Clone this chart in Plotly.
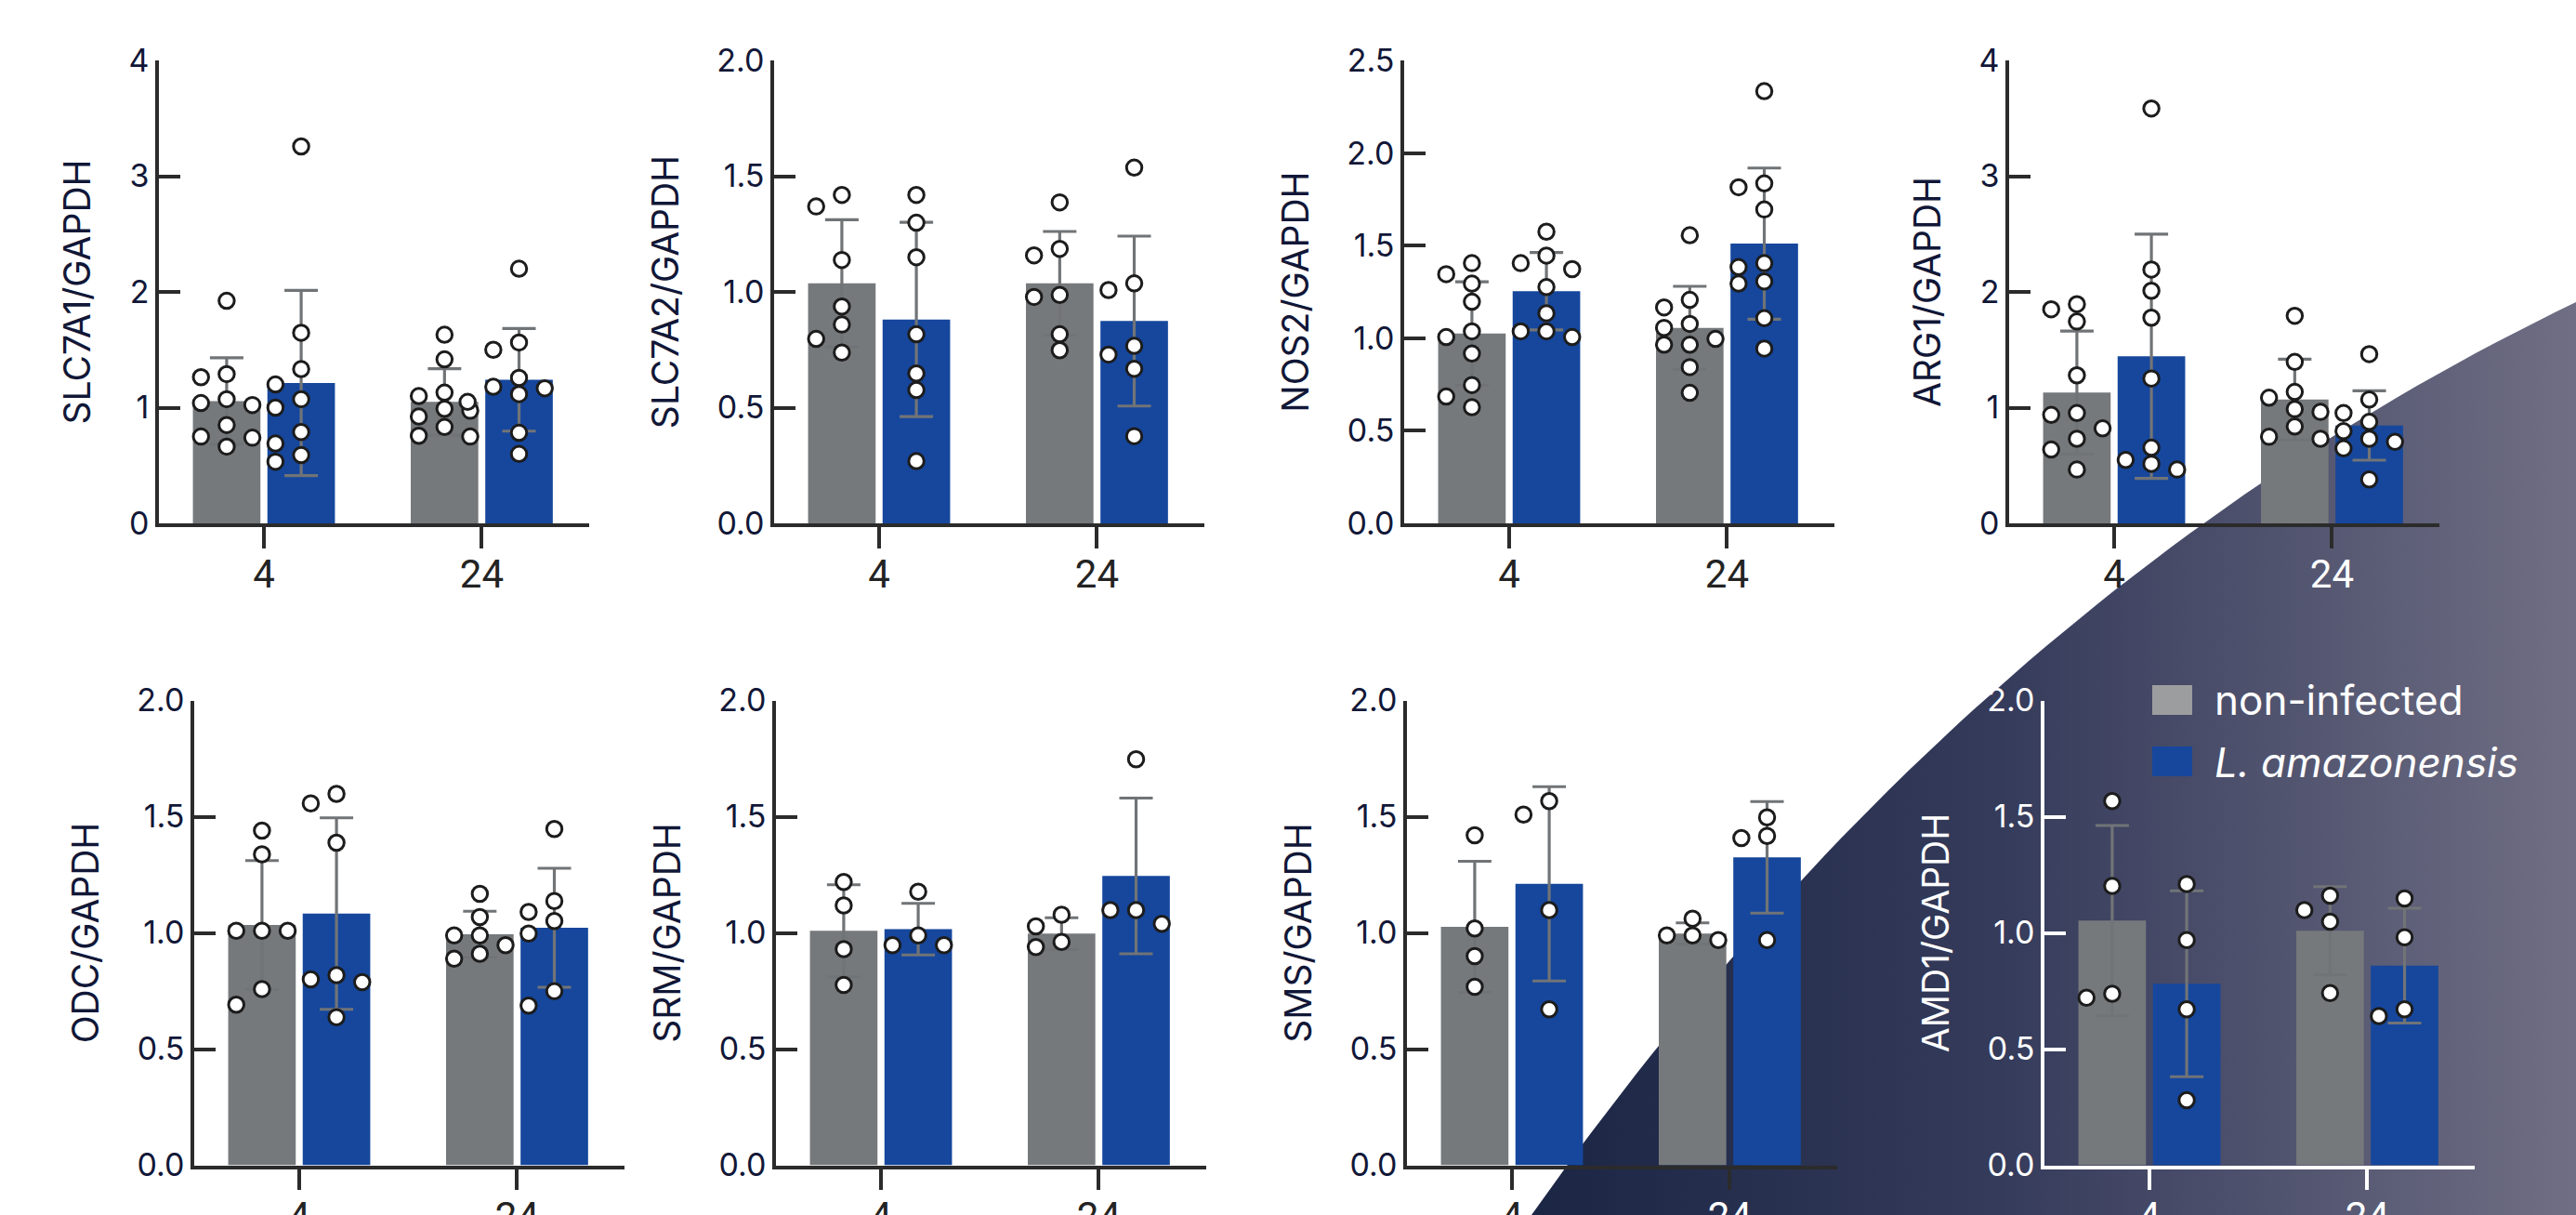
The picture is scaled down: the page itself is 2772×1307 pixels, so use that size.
import plotly.graph_objects as go

# ---------------------------------------------------------------- data
GENES = ["SLC7A1", "SLC7A2", "NOS2", "ARG1", "ODC", "SRM", "SMS", "AMD1"]
TIMES = ["4", "24"]
Y_MAX = [4, 2.0, 2.5, 4, 2.0, 2.0, 2.0, 2.0]
Y_STEP = [1, 0.5, 0.5, 1, 0.5, 0.5, 0.5, 0.5]

# group means and SD, [4 h, 24 h]
MEAN_CTRL = [[1.057, 1.050], [1.037, 1.037], [1.025, 1.056], [1.130, 1.070],
             [1.034, 0.994], [1.009, 0.997], [1.026, 0.997], [1.053, 1.009]]
SD_CTRL = [[0.373, 0.287], [0.275, 0.224], [0.280, 0.224], [0.531, 0.349],
           [0.277, 0.099], [0.198, 0.068], [0.282, 0.046], [0.409, 0.190]]
MEAN_INF = [[1.213, 1.240], [0.881, 0.874], [1.254, 1.511], [1.444, 0.846],
            [1.083, 1.022], [1.016, 1.245], [1.211, 1.325], [0.781, 0.859]]
SD_INF = [[0.800, 0.443], [0.420, 0.367], [0.209, 0.408], [1.055, 0.300],
          [0.412, 0.256], [0.111, 0.335], [0.418, 0.240], [0.400, 0.247]]

# individual replicates
PTS_CTRL_4 = [
    [1.923, 1.29, 1.263, 1.073, 1.04, 1.023, 0.85, 0.75, 0.74, 0.663],
    [1.419, 1.369, 1.138, 0.937, 0.859, 0.797, 0.738],
    [1.405, 1.346, 1.295, 1.197, 1.037, 1.006, 0.917, 0.747, 0.685, 0.627],
    [1.894, 1.85, 1.744, 1.279, 0.953, 0.937, 0.821, 0.731, 0.638, 0.465],
    [1.44, 1.338, 1.009, 1.009, 1.009, 0.758, 0.691],
    [1.219, 1.118, 0.93, 0.776],
    [1.42, 1.019, 0.9, 0.768],
    [1.567, 1.202, 0.738, 0.721],
]
PTS_INF_4 = [
    [3.257, 1.647, 1.333, 1.2, 1.073, 1.0, 0.79, 0.69, 0.59, 0.533],
    [1.419, 1.299, 1.15, 0.817, 0.648, 0.576, 0.269],
    [1.575, 1.446, 1.405, 1.373, 1.276, 1.135, 1.037, 1.037, 1.006],
    [3.585, 2.193, 2.01, 1.777, 1.252, 0.654, 0.548, 0.515, 0.465],
    [1.598, 1.557, 1.388, 0.818, 0.8, 0.788, 0.637],
    [1.177, 0.989, 0.947, 0.947],
    [1.567, 1.509, 1.098, 0.671],
    [1.21, 0.969, 0.671, 0.28],
]
PTS_CTRL_24 = [
    [1.63, 1.417, 1.13, 1.1, 0.99, 0.973, 0.923, 0.833, 0.757, 0.75],
    [1.387, 1.186, 1.158, 0.987, 0.978, 0.817, 0.748],
    [1.556, 1.207, 1.166, 1.077, 1.056, 0.996, 0.965, 0.965, 0.844, 0.705],
    [1.794, 1.395, 1.136, 1.086, 0.987, 0.963, 0.837, 0.748, 0.731],
    [1.168, 1.068, 0.989, 0.989, 0.947, 0.91, 0.889],
    [1.078, 1.028, 0.961, 0.939],
    [1.061, 0.989, 0.989, 0.969],
    [1.16, 1.098, 1.048, 0.741],
]
PTS_INF_24 = [
    [2.2, 1.563, 1.5, 1.257, 1.18, 1.167, 1.117, 1.05, 0.783, 0.6],
    [1.537, 1.037, 1.008, 0.767, 0.729, 0.668, 0.377],
    [2.334, 1.836, 1.815, 1.695, 1.405, 1.384, 1.307, 1.295, 1.108, 0.944],
    [1.462, 1.07, 0.953, 0.877, 0.797, 0.731, 0.704, 0.648, 0.379],
    [1.447, 1.137, 1.09, 1.051, 0.997, 0.749, 0.687],
    [1.747, 1.098, 1.098, 1.039],
    [1.497, 1.417, 1.408, 0.969],
    [1.148, 0.981, 0.671, 0.642],
]
SERIES = ["non-infected", "L. amazonensis"]

# ---------------------------------------------------------------- style
W, H = 2772, 1307
GRAY = "#76797c"
BLUE = "#16479d"
ERR = "#717477"
AXIS = "#2b2b2b"
NAVY = "#111737"
FONT = "Inter"

PANEL_LEFT = [171, 833, 1511, 2162, 209, 835, 1514, 2200]
ROW_TOP = [65, 753.5]
ROW_BOTTOM = [563, 1253.5]
PANEL_W = 463
X_RANGE = [-0.482, 1.493]
BAR_W = 0.31
SHIFT = 0.171
COL_STEP = 0.118
DOT_GAP_PX = 17.0

# panels sitting on the dark band use light text
LIGHT_PANEL = [False] * 7 + [True]
LIGHT_XTICK = [
    [False, False], [False, False], [False, False], [False, True],
    [False, False], [False, False], [False, True], [True, True],
]


def swarm(values, px_per_unit):
    """Greedy column assignment so that dots do not overlap."""
    order = [0, -1, 1, -2, 2, -3, 3]
    placed = []
    cols = []
    for v in values:
        y = v * px_per_unit
        for c in order:
            if all(abs(y - py) >= DOT_GAP_PX for pc, py in placed if pc == c):
                break
        placed.append((c, y))
        cols.append(c)
    return cols


fig = go.Figure()

# decorative dark band (full-canvas subplot drawn first, i.e. underneath)
p0, c, p3 = (1648, 1307), (2118, 639), (2772, 325)
bx, by = [], []
n = 60
for k in range(n + 1):
    t = k / n
    bx.append((1 - t) ** 2 * p0[0] + 2 * t * (1 - t) * c[0] + t ** 2 * p3[0])
    by.append((1 - t) ** 2 * p0[1] + 2 * t * (1 - t) * c[1] + t ** 2 * p3[1])
bx += [W, p0[0]]
by += [H, p0[1]]
fig.add_trace(go.Scatter(
    x=bx, y=by, xaxis="x", yaxis="y", mode="lines", line=dict(width=0),
    fill="toself",
    fillgradient=dict(type="horizontal",
                      colorscale=[[0, "#1b2544"], [0.45, "#353b5b"], [1, "#6f6e84"]]),
    hoverinfo="skip", showlegend=False,
))

layout_axes = {
    "xaxis": dict(domain=[0, 1], range=[0, W], visible=False, fixedrange=True,
                  automargin=False),
    "yaxis": dict(domain=[0, 1], range=[H, 0], visible=False, fixedrange=True,
                  automargin=False),
}

for i, gene in enumerate(GENES):
    ax = i + 2
    xa, ya = f"x{ax}", f"y{ax}"
    row = i // 4
    left = PANEL_LEFT[i]
    top, bottom = ROW_TOP[row], ROW_BOTTOM[row]
    px_per_unit = (bottom - top) / Y_MAX[i]
    light = LIGHT_PANEL[i]
    line_col = "white" if light else AXIS
    text_col = "white" if light else NAVY

    groups = [
        (MEAN_CTRL[i], SD_CTRL[i], [PTS_CTRL_4[i], PTS_CTRL_24[i]], GRAY, -SHIFT),
        (MEAN_INF[i], SD_INF[i], [PTS_INF_4[i], PTS_INF_24[i]], BLUE, SHIFT),
    ]
    for mean, sd, pts, col, sh in groups:
        xs = [k + sh for k in range(len(TIMES))]
        fig.add_trace(go.Bar(
            x=xs, y=mean, width=BAR_W, marker=dict(color=col, line=dict(width=0)),
            xaxis=xa, yaxis=ya, showlegend=False, hoverinfo="skip",
        ))
    for mean, sd, pts, col, sh in groups:
        xs = [k + sh for k in range(len(TIMES))]
        fig.add_trace(go.Scatter(
            x=xs, y=mean, mode="markers", marker=dict(size=1, opacity=0),
            error_y=dict(type="data", array=sd, visible=True, color=ERR,
                         thickness=3.2, width=18),
            xaxis=xa, yaxis=ya, showlegend=False, hoverinfo="skip",
        ))
    for mean, sd, pts, col, sh in groups:
        for k, vals in enumerate(pts):
            cols = swarm(vals, px_per_unit)
            fig.add_trace(go.Scatter(
                x=[k + sh + cc * COL_STEP for cc in cols], y=vals, mode="markers",
                marker=dict(size=16.5, color="white",
                            line=dict(color="#1c1c1c", width=3)),
                xaxis=xa, yaxis=ya, showlegend=False, hoverinfo="skip",
                cliponaxis=False,
            ))

    ticktext = []
    for k, t in enumerate(TIMES):
        if LIGHT_XTICK[i][k]:
            ticktext.append(f"<span style='color:white'>{t}</span>")
        else:
            ticktext.append(t)

    nt = int(round(Y_MAX[i] / Y_STEP[i]))
    yt = [j * Y_STEP[i] for j in range(nt + 1)]
    layout_axes[f"xaxis{ax}"] = dict(
        domain=[left / W, (left + PANEL_W) / W], anchor=ya, automargin=False,
        range=X_RANGE, tickvals=list(range(len(TIMES))), ticktext=ticktext,
        ticks="outside", ticklen=23, tickwidth=3.5, tickcolor=line_col,
        showline=True, linewidth=3.5, linecolor=line_col,
        showgrid=False, zeroline=False, fixedrange=True,
        tickfont=dict(family="Roboto", size=42, color="#232323"),
        ticklabelstandoff=-8,
    )
    layout_axes[f"yaxis{ax}"] = dict(
        domain=[(H - bottom) / H, (H - top) / H], anchor=xa, automargin=False,
        range=[0, Y_MAX[i]], tickvals=yt,
        tickformat="d" if Y_STEP[i] >= 1 else ".1f",
        ticks="inside", ticklen=23, tickwidth=3.5, tickcolor=line_col,
        showline=True, linewidth=3.5, linecolor=line_col,
        showgrid=False, zeroline=False, fixedrange=True,
        tickfont=dict(family=FONT, size=34, color=text_col),
        title=dict(text=f"{gene}/GAPDH", standoff=30,
                   font=dict(family=FONT, size=39, color=text_col)),
    )

# legend drawn as swatches + labels in the AMD1 panel corner
shapes = []
annotations = []
leg_x0, leg_x1 = 2316, 2359
for (y0, y1, yc), col, name in [((737, 769, 753), "#9b9d9f", SERIES[0]),
                                ((803, 835, 820), BLUE, SERIES[1])]:
    shapes.append(dict(type="rect", xref="paper", yref="paper",
                       x0=leg_x0 / W, x1=leg_x1 / W, y0=1 - y1 / H, y1=1 - y0 / H,
                       fillcolor=col, line=dict(width=0), layer="above"))
    label = name if name == SERIES[0] else f"<i>{name}</i>"
    annotations.append(dict(xref="paper", yref="paper", x=2381 / W, y=1 - yc / H,
                            xanchor="left", yanchor="middle", text=label,
                            showarrow=False,
                            font=dict(family=FONT, size=44, color="white")))

fig.update_layout(
    template="none",
    width=W, height=H, margin=dict(l=0, r=0, t=0, b=0, pad=0),
    paper_bgcolor="white", plot_bgcolor="rgba(0,0,0,0)",
    barmode="overlay", showlegend=False,
    shapes=shapes, annotations=annotations,
    **layout_axes,
)

fig.write_html("out.html")
